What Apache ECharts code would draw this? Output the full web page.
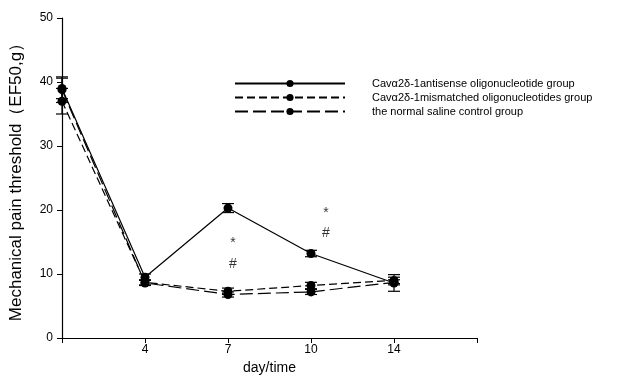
<!DOCTYPE html>
<html><head><meta charset="utf-8">
<script src="https://cdn.jsdelivr.net/npm/echarts@6/dist/echarts.min.js"></script>
<style>html,body{margin:0;padding:0;background:#fff}#c{width:625px;height:377px}</style>
</head><body><div id="c"></div>
<script>
var xPositions = [0, 1, 2, 3, 4];
var tickLabels = {1: '4', 2: '7', 3: '10', 4: '14'};
var seriesNames = ['Cavα2δ-1antisense oligonucleotide group', 'Cavα2δ-1mismatched oligonucleotides group', 'the normal saline control group'];
var antisense = [39.0, 9.5, 20.3, 13.2, 8.6];
var antisenseErr = [1.6, 0.5, 0.7, 0.5, 1.3];
var mismatched = [37.0, 8.7, 7.3, 8.2, 9.0];
var mismatchedErr = [2.0, 0.4, 0.5, 0.5, 0.5];
var saline = [38.8, 8.6, 6.8, 7.2, 8.7];
var salineErr = [2.0, 0.4, 0.4, 0.4, 0.4];
var annotations = [[2.06, 14.8, '*'], [2.06, 11.6, '#'], [3.18, 19.5, '*'], [3.18, 16.4, '#']];

var chart = echarts.init(document.getElementById('c'));
function pairs(v){ return v.map(function(y,i){ return [xPositions[i], y]; }); }
function errData(v,e){ return v.map(function(y,i){ return [xPositions[i], y - e[i], y + e[i]]; }); }
function errSeries(v,e){
  return {
    type: 'custom', silent: true, z: 3,
    data: errData(v,e),
    renderItem: function(params, api){
      var lo = api.coord([api.value(0), api.value(1)]);
      var hi = api.coord([api.value(0), api.value(2)]);
      var w = 6;
      var st = {stroke: '#000', lineWidth: 1.2};
      return {type: 'group', children: [
        {type: 'line', shape: {x1: lo[0], y1: lo[1], x2: hi[0], y2: hi[1]}, style: st},
        {type: 'line', shape: {x1: lo[0]-w, y1: lo[1], x2: lo[0]+w, y2: lo[1]}, style: st},
        {type: 'line', shape: {x1: hi[0]-w, y1: hi[1], x2: hi[0]+w, y2: hi[1]}, style: st}
      ]};
    }
  };
}
function lineSeries(name, v, dash){
  return {
    name: name, type: 'line', data: pairs(v), symbol: 'circle', symbolSize: 9,
    itemStyle: {color: '#000'}, z: 4,
    lineStyle: {color: '#000', width: 1.2, type: dash}
  };
}
var font = 'Liberation Sans, Arial, sans-serif';
chart.setOption({
  animation: false,
  backgroundColor: '#fff',
  grid: {left: 62, right: 148, top: 18, bottom: 39, outerBoundsMode: 'none', containLabel: false},
  legend: {
    orient: 'vertical', left: 229, top: 73, itemWidth: 110, itemHeight: 9, itemGap: 3,
    data: seriesNames,
    textStyle: {fontFamily: font, fontSize: 11, color: '#000', padding: [0,0,0,22]},
    itemStyle: {color: '#000'}
  },
  xAxis: {
    type: 'value', min: 0, max: 5, interval: 1,
    name: 'day/time', nameLocation: 'middle', nameGap: 23,
    nameTextStyle: {fontFamily: font, fontSize: 14, color: '#000'},
    axisLine: {lineStyle: {color: '#000', width: 1.2}},
    axisTick: {show: true, length: 5, lineStyle: {color: '#000'}},
    splitLine: {show: false},
    axisLabel: {fontFamily: font, fontSize: 12, color: '#000', margin: 6,
      formatter: function(v){ return tickLabels[v] || ''; }}
  },
  yAxis: {
    type: 'value', min: 0, max: 50, interval: 10,
    name: 'Mechanical pain threshold（EF50,g）', nameLocation: 'middle', nameGap: 37,
    nameTextStyle: {fontFamily: font, fontSize: 17, color: '#000'},
    axisLine: {show: true, lineStyle: {color: '#000', width: 1.2}},
    axisTick: {show: true, length: 5, lineStyle: {color: '#000'}},
    splitLine: {show: false},
    axisLabel: {fontFamily: font, fontSize: 12, color: '#000', margin: 9}
  },
  series: [
    errSeries(antisense, antisenseErr),
    errSeries(mismatched, mismatchedErr),
    errSeries(saline, salineErr),
    lineSeries(seriesNames[0], antisense, 'solid'),
    lineSeries(seriesNames[1], mismatched, [8, 4]),
    lineSeries(seriesNames[2], saline, [13, 5]),
    {
      type: 'scatter', symbolSize: 0, silent: true,
      data: annotations.map(function(a){ return {value: [a[0], a[1]], label: {formatter: a[2]}}; }),
      label: {show: true, position: 'inside', fontFamily: font, fontSize: 14, color: '#000'}
    }
  ]
});
</script></body></html>
